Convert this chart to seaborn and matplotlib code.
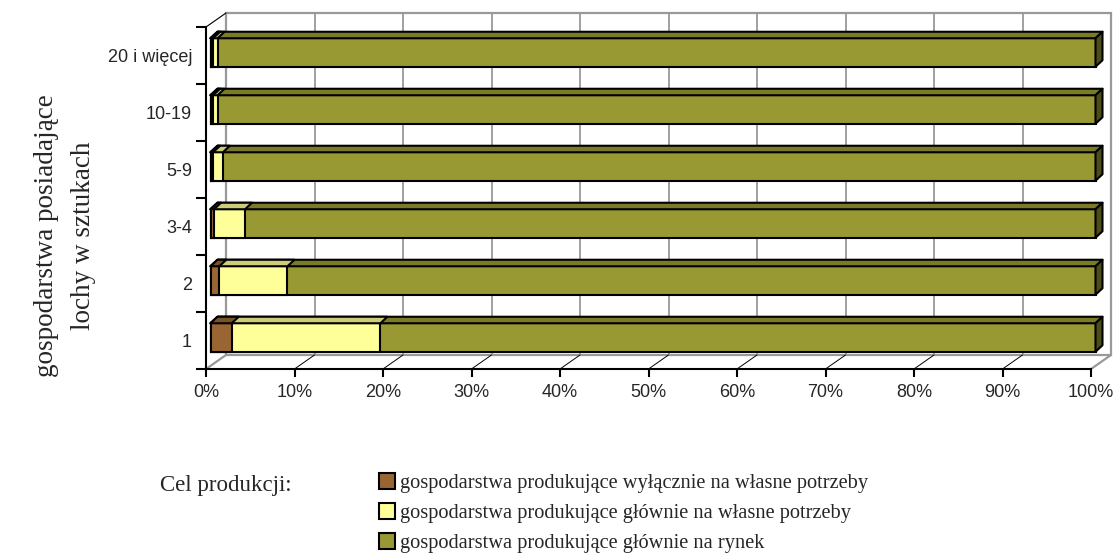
import numpy as np
import pandas as pd
import matplotlib
matplotlib.use("Agg")
import matplotlib.pyplot as plt
import seaborn as sns
from matplotlib.patches import Polygon, Rectangle
from matplotlib.lines import Line2D

# ---------------- data ----------------
categories = ["20 i więcej", "10-19", "5-9", "3-4", "2", "1"]
wylacznie_wlasne = [0.3, 0.3, 0.3, 0.4, 1.0, 2.4]      # brown
glownie_wlasne = [0.5, 0.5, 1.1, 3.5, 7.7, 16.8]       # yellow
glownie_rynek = [99.2, 99.2, 98.6, 96.1, 91.3, 80.8]   # olive
series_names = [
    "gospodarstwa produkujące wyłącznie na własne potrzeby",
    "gospodarstwa produkujące głównie na własne potrzeby",
    "gospodarstwa produkujące głównie na rynek",
]
xticks = [0, 10, 20, 30, 40, 50, 60, 70, 80, 90, 100]
ylabel = "gospodarstwa posiadające\nlochy w sztukach"
legend_title = "Cel produkcji:"

face_colors = ["#996633", "#FFFF99", "#999933"]
top_colors = ["#7A5226", "#CCCC7A", "#7A7A29"]
side_colors = ["#5C3D1F", "#99995C", "#4D4D1A"]

sns.set_theme(style="white")
plt.rcParams["font.family"] = ["Liberation Sans", "DejaVu Sans"]
SERIF = ["Liberation Serif", "DejaVu Serif"]

W, H = 1118, 556
fig = plt.figure(figsize=(W / 100, H / 100), dpi=100)
ax_l, ax_r, ax_t, ax_b = 206, 1091, 27, 369
ax = fig.add_axes([ax_l / W, (H - ax_b) / H, (ax_r - ax_l) / W, (ax_b - ax_t) / H])

df = pd.DataFrame({"cat": categories,
                   "s1": wylacznie_wlasne, "s2": glownie_wlasne, "s3": glownie_rynek})
df["c1"] = df["s1"]
df["c2"] = df["s1"] + df["s2"]
df["c3"] = df["s1"] + df["s2"] + df["s3"]

xpp = 100.0 / (ax_r - ax_l)       # data units per pixel (x)
ypp = 6.0 / (ax_b - ax_t)         # data units per pixel (y)

# 3D geometry in pixels
wall_dx, wall_dy = 20, 14         # depth of the back wall
bar_ox, bar_oy = 4.5, 3           # bar front-face offset from front plane
bar_dx, bar_dy = 7, 6.5           # bar depth

# ---------- back wall, grid, floor ----------
wx, wy = wall_dx * xpp, wall_dy * ypp
ax.add_patch(Rectangle((wx, -0.5 - wy), 100, 6, facecolor="white",
                       edgecolor="#999999", lw=1.6, clip_on=False, zorder=0.5))
for t in xticks[1:-1]:
    ax.add_line(Line2D([t + wx, t + wx], [5.5 - wy, -0.5 - wy], color="#999999",
                       lw=1.3, clip_on=False, zorder=0.6))
for t in xticks[1:-1]:
    ax.add_line(Line2D([t, t + wx], [5.5, 5.5 - wy], color="black",
                       lw=0.7, clip_on=False, zorder=0.6))
for t in [0, 100]:
    ax.add_line(Line2D([t, t + wx], [5.5, 5.5 - wy], color="#999999",
                       lw=1.6, clip_on=False, zorder=0.6))
ax.add_line(Line2D([0, wx], [-0.5, -0.5 - wy], color="black", lw=0.8,
                   clip_on=False, zorder=0.6))

# ---------- bars ----------
ox, oy = bar_ox * xpp, bar_oy * ypp
bdx, bdy = bar_dx * xpp, bar_dy * ypp
layers = [("c3", 2), ("c2", 1), ("c1", 0)]
for z, (col, ci) in enumerate(layers):
    n0 = len(ax.patches)
    sns.barplot(data=df, x=col, y="cat", orient="h", color=face_colors[ci],
                saturation=1, edgecolor="black", linewidth=1.5, width=0.5,
                ax=ax, zorder=2 + z)
    for p in ax.patches[n0:]:
        p.set_x(p.get_x() + ox)
        p.set_y(p.get_y() - oy)
        p.set_clip_on(False)
        x0, x1 = p.get_x(), p.get_x() + p.get_width()
        yt, yb = p.get_y(), p.get_y() + p.get_height()
        top = Polygon([(x0, yt), (x1, yt), (x1 + bdx, yt - bdy), (x0 + bdx, yt - bdy)],
                      closed=True, facecolor=top_colors[ci], edgecolor="black",
                      lw=1.5, clip_on=False, zorder=2 + z, joinstyle="round")
        ax.add_patch(top)
        if ci == 2:
            side = Polygon([(x1, yt), (x1 + bdx, yt - bdy), (x1 + bdx, yb - bdy), (x1, yb)],
                           closed=True, facecolor=side_colors[ci], edgecolor="black",
                           lw=1.5, clip_on=False, zorder=2 + z, joinstyle="round")
            ax.add_patch(side)

# ---------- axes ----------
ax.set_xlim(0, 100)
ax.set_ylim(5.5, -0.5)
ax.set_xticks(xticks)
ax.set_xticklabels([f"{t}%" for t in xticks], fontsize=13)
ax.set_yticks(range(len(categories)))
ax.set_yticklabels(categories, fontsize=13)
ax.set_yticks(np.arange(-0.5, 6.0, 1.0), minor=True)
ax.tick_params(axis="y", which="major", length=0, pad=10)
ax.tick_params(axis="y", which="minor", length=7, width=1.5, color="black", left=True)
ax.tick_params(axis="x", which="major", length=6, width=1.5, color="black",
               bottom=True, pad=5)
ax.set_xlabel("")
ax.set_ylabel("")
for s in ["top", "right"]:
    ax.spines[s].set_visible(False)
for s in ["left", "bottom"]:
    ax.spines[s].set_visible(True)
    ax.spines[s].set_color("black")
    ax.spines[s].set_linewidth(1.5)
    ax.spines[s].set_zorder(10)
ax.patch.set_visible(False)
ax.grid(False)

# ---------- y label ----------
fig.text(65 / W, 1 - 236 / H, ylabel, rotation=90, ha="center", va="center",
         fontsize=19.5, family=SERIF, linespacing=1.6)

# ---------- legend ----------
fig.text(160 / W, 1 - 486 / H, legend_title, ha="left", va="center",
         fontsize=16.5, family=SERIF)
handles = [Rectangle((0, 0), 1, 1, facecolor=c, edgecolor="black", lw=1.5)
           for c in face_colors]
leg = fig.legend(handles, series_names, loc="upper left",
                 bbox_to_anchor=(379 / W, 1 - 473 / H), frameon=False,
                 prop={"family": SERIF, "size": 14.7},
                 handlelength=0.8, handleheight=0.8, handletextpad=0.25,
                 labelspacing=0.5, borderpad=0, borderaxespad=0)

fig.savefig("out.png", dpi=100)
